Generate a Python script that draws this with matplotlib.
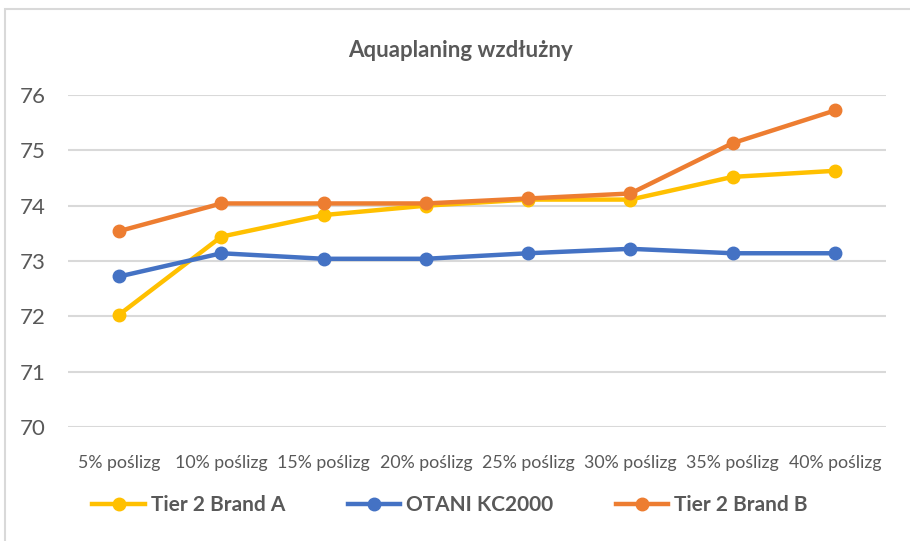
import matplotlib.pyplot as plt
from matplotlib.patches import Rectangle
from matplotlib.lines import Line2D

# Dane
kategorie = ['5% poślizg', '10% poślizg', '15% poślizg', '20% poślizg',
             '25% poślizg', '30% poślizg', '35% poślizg', '40% poślizg']
brand_a = [72.03, 73.44, 73.83, 74.0, 74.11, 74.11, 74.52, 74.63]
otani = [72.72, 73.14, 73.04, 73.04, 73.14, 73.22, 73.14, 73.14]
brand_b = [73.54, 74.04, 74.04, 74.04, 74.13, 74.22, 75.13, 75.72]
serie = ['Tier 2 Brand A', 'OTANI KC2000', 'Tier 2 Brand B']
kolory = ['#FFC000', '#4472C4', '#ED7D31']
y_ticks = [70, 71, 72, 73, 74, 75, 76]

plt.rcParams['font.family'] = ['Lato', 'DejaVu Sans']

fig = plt.figure(figsize=(9.1, 5.41), dpi=100)
# Ramka wykresu (jak w Excelu)
fig.patches.append(Rectangle((5 / 910, -0.05), 1.0, 1 - 9 / 541 + 0.05,
                             transform=fig.transFigure, fill=False,
                             edgecolor='#d9d9d9', linewidth=1.5))

ax = fig.add_axes([68 / 910, 1 - 427 / 541, 818 / 910, 332 / 541])
x = list(range(len(kategorie)))
for dane, kolor in zip([brand_a, otani, brand_b], kolory):
    ax.plot(x, dane, color=kolor, linewidth=3.2, marker='o', markersize=9,
            solid_capstyle='round', zorder=3)

ax.set_xlim(-0.5, len(kategorie) - 0.5)
ax.set_ylim(70, 76)
ax.set_yticks(y_ticks)
ax.set_xticks(x)
ax.set_xticklabels(kategorie, fontsize=12.8, color='#595959')
ax.tick_params(axis='x', length=0, pad=20)
ax.tick_params(axis='y', length=0, pad=16, labelsize=16, labelcolor='#595959')
ax.grid(axis='y', color='#d9d9d9', linewidth=1.5)
ax.set_axisbelow(True)
for s in ax.spines.values():
    s.set_visible(False)

fig.text(461 / 910, 1 - 50 / 541, 'Aquaplaning wzdłużny', ha='center', va='center',
         fontsize=16, fontweight='bold', color='#595959')

uchwyty = [Line2D([0], [0], color=k, linewidth=3.2, marker='o', markersize=9)
           for k in kolory]
fig.legend(uchwyty, serie, loc='center', bbox_to_anchor=(450 / 910, 1 - 505 / 541),
           ncol=3, frameon=False, prop={'weight': 'bold', 'size': 15},
           labelcolor='#595959', handlelength=2.5, handletextpad=0.3,
           columnspacing=3.0)

fig.savefig('out.png', dpi=100)
